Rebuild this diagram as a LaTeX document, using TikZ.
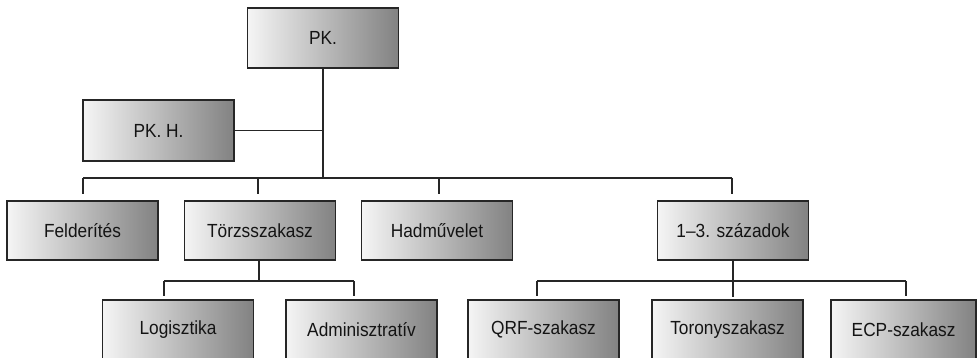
\documentclass[tikz,border=0pt]{standalone}
\usepackage{fontspec}
\setmainfont[FakeStretch=0.91]{Liberation Sans}
\begin{document}
\begin{tikzpicture}[x=1pt,y=-1pt,
  unitbox/.style={draw=black!85, line width=1.4pt, left color=black!4, right color=black!49,
    minimum width=151pt, minimum height=60pt, inner sep=0pt, text=black!92,
    font=\fontsize{19}{22}\selectfont},
  conn/.style={draw=black!85, line width=1.4pt}]
\useasboundingbox (0,0) rectangle (977,358);
\clip (0,0) rectangle (977,358);
% boxes
\node[unitbox] (pk)  at (323,38)    {PK.};
\node[unitbox, minimum height=61pt] (pkh) at (158.5,130.5) {PK. H.};
\node[unitbox, minimum height=59pt] (fel) at (82.5,230.5) {Felderítés};
\node[unitbox, minimum height=59pt] (tor) at (260,230.5) {Törzsszakasz};
\node[unitbox, minimum height=59pt] (had) at (437,230.5) {Hadművelet};
\node[unitbox, minimum height=59pt] (sza) at (733,230.5) {1–3. századok};
\node[unitbox, minimum height=59pt] (log) at (178,329.5) {Logisztika};
\node[unitbox, minimum height=59pt] (adm) at (361.5,329.5) {Adminisztratív};
\node[unitbox, minimum height=59pt] (qrf) at (543.5,329.5) {QRF-szakasz};
\node[unitbox, minimum height=59pt] (ton) at (727.5,329.5) {Toronyszakasz};
\node[unitbox, minimum height=59pt, minimum width=145pt] (ecp) at (903.6,329.5) {ECP-szakasz};
% junction coordinates
\coordinate (h1l) at (83,178);
\coordinate (h1r) at (732,178);
\coordinate (j2) at (258,178);
\coordinate (j3) at (439,178);
\coordinate (t1) at (259,281);
\coordinate (t1l) at (164,281);
\coordinate (t1r) at (354,281);
\coordinate (s1) at (733,281);
\coordinate (s1l) at (537,281);
\coordinate (s1r) at (906,281);
% connectors
\draw[conn] (pk.south) -- (pk.south |- h1l);
\draw[conn] (pkh.east) -- (pkh.east -| pk.south);
\draw[conn] (h1l) -- (h1r);
\draw[conn, shorten >=6pt] (h1l) -- (h1l |- fel.north);
\draw[conn, shorten >=6pt] (j2) -- (j2 |- tor.north);
\draw[conn, shorten >=6pt] (j3) -- (j3 |- had.north);
\draw[conn, shorten >=6pt] (h1r) -- (h1r |- sza.north);
\draw[conn] (tor.south -| t1) -- (t1);
\draw[conn] (t1l) -- (t1r);
\draw[conn, shorten >=3pt] (t1l) -- (t1l |- log.north);
\draw[conn, shorten >=3pt] (t1r) -- (t1r |- adm.north);
\draw[conn, shorten >=2pt] (sza.south -| s1) -- (s1 |- ton.north);
\draw[conn] (s1l) -- (s1r);
\draw[conn, shorten >=3pt] (s1l) -- (s1l |- qrf.north);
\draw[conn, shorten >=3pt] (s1r) -- (s1r |- ecp.north);
\end{tikzpicture}
\end{document}
